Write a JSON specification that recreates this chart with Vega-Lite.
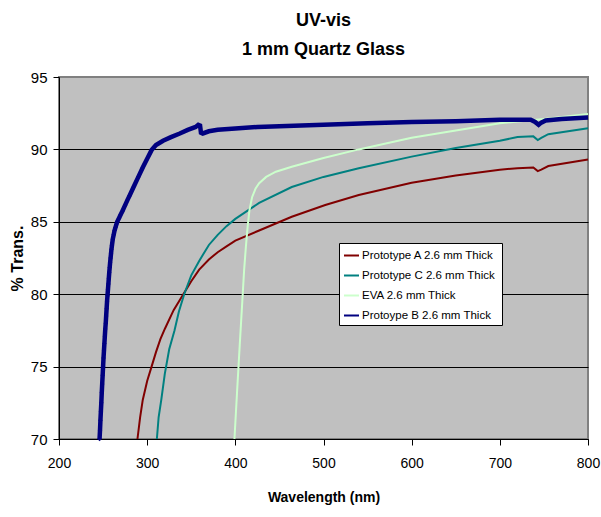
{
  "$schema": "https://vega.github.io/schema/vega-lite/v6.json",
  "width": 529,
  "height": 362,
  "autosize": "none",
  "padding": {"left": 59, "top": 77, "right": 13, "bottom": 78},
  "background": "white",
  "title": {
    "text": ["UV-vis", "1 mm Quartz Glass"],
    "font": "Liberation Sans",
    "fontSize": 18,
    "fontWeight": "bold",
    "lineHeight": 29,
    "offset": 11,
    "color": "black",
    "anchor": "middle"
  },
  "config": {
    "view": {"fill": "#C0C0C0", "stroke": "#808080", "strokeWidth": 2},
    "axis": {
      "labelFont": "Liberation Sans",
      "labelFontSize": 15,
      "labelColor": "black",
      "titleFont": "Liberation Sans",
      "titleColor": "black",
      "titleFontWeight": "bold",
      "domainColor": "black",
      "tickColor": "black",
      "tickSize": 6
    },
    "legend": {
      "orient": "none",
      "legendX": 280,
      "legendY": 166,
      "fillColor": "white",
      "strokeColor": "black",
      "padding": 4,
      "symbolType": "stroke",
      "symbolSize": 225,
      "symbolStrokeWidth": 2,
      "labelFont": "Liberation Sans",
      "labelFontSize": 11.5,
      "labelColor": "black",
      "labelLimit": 300,
      "labelOffset": 2,
      "rowPadding": 6
    }
  },
  "data": {
    "values": [
      {"series": "Protoype B 2.6 mm Thick", "nm": 246, "t": 70.0},
      {"series": "Protoype B 2.6 mm Thick", "nm": 246.5, "t": 70.6},
      {"series": "Protoype B 2.6 mm Thick", "nm": 247, "t": 71.3},
      {"series": "Protoype B 2.6 mm Thick", "nm": 247.5, "t": 71.9},
      {"series": "Protoype B 2.6 mm Thick", "nm": 248, "t": 72.5},
      {"series": "Protoype B 2.6 mm Thick", "nm": 248.5, "t": 73.2},
      {"series": "Protoype B 2.6 mm Thick", "nm": 249, "t": 73.8},
      {"series": "Protoype B 2.6 mm Thick", "nm": 249.5, "t": 74.4},
      {"series": "Protoype B 2.6 mm Thick", "nm": 250, "t": 75.0},
      {"series": "Protoype B 2.6 mm Thick", "nm": 250.5, "t": 75.6},
      {"series": "Protoype B 2.6 mm Thick", "nm": 251, "t": 76.1},
      {"series": "Protoype B 2.6 mm Thick", "nm": 251.5, "t": 76.6},
      {"series": "Protoype B 2.6 mm Thick", "nm": 252, "t": 77.1},
      {"series": "Protoype B 2.6 mm Thick", "nm": 252.5, "t": 77.6},
      {"series": "Protoype B 2.6 mm Thick", "nm": 253, "t": 78.0},
      {"series": "Protoype B 2.6 mm Thick", "nm": 253.5, "t": 78.5},
      {"series": "Protoype B 2.6 mm Thick", "nm": 254, "t": 79.0},
      {"series": "Protoype B 2.6 mm Thick", "nm": 254.5, "t": 79.5},
      {"series": "Protoype B 2.6 mm Thick", "nm": 255, "t": 79.9},
      {"series": "Protoype B 2.6 mm Thick", "nm": 255.5, "t": 80.3},
      {"series": "Protoype B 2.6 mm Thick", "nm": 256, "t": 80.7},
      {"series": "Protoype B 2.6 mm Thick", "nm": 256.5, "t": 81.1},
      {"series": "Protoype B 2.6 mm Thick", "nm": 257, "t": 81.5},
      {"series": "Protoype B 2.6 mm Thick", "nm": 257.5, "t": 81.85},
      {"series": "Protoype B 2.6 mm Thick", "nm": 258, "t": 82.2},
      {"series": "Protoype B 2.6 mm Thick", "nm": 258.5, "t": 82.5},
      {"series": "Protoype B 2.6 mm Thick", "nm": 259, "t": 82.8},
      {"series": "Protoype B 2.6 mm Thick", "nm": 259.5, "t": 83.1},
      {"series": "Protoype B 2.6 mm Thick", "nm": 260, "t": 83.35},
      {"series": "Protoype B 2.6 mm Thick", "nm": 261, "t": 83.8},
      {"series": "Protoype B 2.6 mm Thick", "nm": 262, "t": 84.1},
      {"series": "Protoype B 2.6 mm Thick", "nm": 263, "t": 84.4},
      {"series": "Protoype B 2.6 mm Thick", "nm": 264, "t": 84.6},
      {"series": "Protoype B 2.6 mm Thick", "nm": 265, "t": 84.8},
      {"series": "Protoype B 2.6 mm Thick", "nm": 266, "t": 85.0},
      {"series": "Protoype B 2.6 mm Thick", "nm": 268, "t": 85.25},
      {"series": "Protoype B 2.6 mm Thick", "nm": 270, "t": 85.5},
      {"series": "Protoype B 2.6 mm Thick", "nm": 272, "t": 85.75},
      {"series": "Protoype B 2.6 mm Thick", "nm": 275, "t": 86.15},
      {"series": "Protoype B 2.6 mm Thick", "nm": 278, "t": 86.55},
      {"series": "Protoype B 2.6 mm Thick", "nm": 280, "t": 86.8},
      {"series": "Protoype B 2.6 mm Thick", "nm": 285, "t": 87.45},
      {"series": "Protoype B 2.6 mm Thick", "nm": 290, "t": 88.1},
      {"series": "Protoype B 2.6 mm Thick", "nm": 295, "t": 88.75},
      {"series": "Protoype B 2.6 mm Thick", "nm": 300, "t": 89.35},
      {"series": "Protoype B 2.6 mm Thick", "nm": 305, "t": 89.95},
      {"series": "Protoype B 2.6 mm Thick", "nm": 310, "t": 90.3},
      {"series": "Protoype B 2.6 mm Thick", "nm": 318, "t": 90.6},
      {"series": "Protoype B 2.6 mm Thick", "nm": 327, "t": 90.85},
      {"series": "Protoype B 2.6 mm Thick", "nm": 337, "t": 91.1},
      {"series": "Protoype B 2.6 mm Thick", "nm": 346, "t": 91.35},
      {"series": "Protoype B 2.6 mm Thick", "nm": 355, "t": 91.55},
      {"series": "Protoype B 2.6 mm Thick", "nm": 358, "t": 91.7},
      {"series": "Protoype B 2.6 mm Thick", "nm": 360, "t": 91.65},
      {"series": "Protoype B 2.6 mm Thick", "nm": 361, "t": 91.15},
      {"series": "Protoype B 2.6 mm Thick", "nm": 363, "t": 91.1},
      {"series": "Protoype B 2.6 mm Thick", "nm": 370, "t": 91.25},
      {"series": "Protoype B 2.6 mm Thick", "nm": 380, "t": 91.35},
      {"series": "Protoype B 2.6 mm Thick", "nm": 400, "t": 91.45},
      {"series": "Protoype B 2.6 mm Thick", "nm": 425, "t": 91.55},
      {"series": "Protoype B 2.6 mm Thick", "nm": 450, "t": 91.6},
      {"series": "Protoype B 2.6 mm Thick", "nm": 500, "t": 91.7},
      {"series": "Protoype B 2.6 mm Thick", "nm": 550, "t": 91.8},
      {"series": "Protoype B 2.6 mm Thick", "nm": 600, "t": 91.9},
      {"series": "Protoype B 2.6 mm Thick", "nm": 650, "t": 91.95},
      {"series": "Protoype B 2.6 mm Thick", "nm": 700, "t": 92.05},
      {"series": "Protoype B 2.6 mm Thick", "nm": 735, "t": 92.05},
      {"series": "Protoype B 2.6 mm Thick", "nm": 740, "t": 91.9},
      {"series": "Protoype B 2.6 mm Thick", "nm": 744, "t": 91.7},
      {"series": "Protoype B 2.6 mm Thick", "nm": 747, "t": 91.85},
      {"series": "Protoype B 2.6 mm Thick", "nm": 752, "t": 92.0},
      {"series": "Protoype B 2.6 mm Thick", "nm": 770, "t": 92.1},
      {"series": "Protoype B 2.6 mm Thick", "nm": 800, "t": 92.2},

      {"series": "Prototype A  2.6 mm Thick", "nm": 289, "t": 70.0},
      {"series": "Prototype A  2.6 mm Thick", "nm": 292, "t": 71.5},
      {"series": "Prototype A  2.6 mm Thick", "nm": 295, "t": 72.7},
      {"series": "Prototype A  2.6 mm Thick", "nm": 300, "t": 74.0},
      {"series": "Prototype A  2.6 mm Thick", "nm": 305, "t": 75.0},
      {"series": "Prototype A  2.6 mm Thick", "nm": 310, "t": 76.0},
      {"series": "Prototype A  2.6 mm Thick", "nm": 315, "t": 76.9},
      {"series": "Prototype A  2.6 mm Thick", "nm": 320, "t": 77.6},
      {"series": "Prototype A  2.6 mm Thick", "nm": 330, "t": 78.9},
      {"series": "Prototype A  2.6 mm Thick", "nm": 341, "t": 80.0},
      {"series": "Prototype A  2.6 mm Thick", "nm": 350, "t": 80.9},
      {"series": "Prototype A  2.6 mm Thick", "nm": 359, "t": 81.7},
      {"series": "Prototype A  2.6 mm Thick", "nm": 370, "t": 82.4},
      {"series": "Prototype A  2.6 mm Thick", "nm": 380, "t": 82.9},
      {"series": "Prototype A  2.6 mm Thick", "nm": 390, "t": 83.3},
      {"series": "Prototype A  2.6 mm Thick", "nm": 400, "t": 83.7},
      {"series": "Prototype A  2.6 mm Thick", "nm": 427, "t": 84.4},
      {"series": "Prototype A  2.6 mm Thick", "nm": 464, "t": 85.35},
      {"series": "Prototype A  2.6 mm Thick", "nm": 502, "t": 86.16},
      {"series": "Prototype A  2.6 mm Thick", "nm": 540, "t": 86.85},
      {"series": "Prototype A  2.6 mm Thick", "nm": 600, "t": 87.7},
      {"series": "Prototype A  2.6 mm Thick", "nm": 650, "t": 88.2},
      {"series": "Prototype A  2.6 mm Thick", "nm": 700, "t": 88.6},
      {"series": "Prototype A  2.6 mm Thick", "nm": 720, "t": 88.7},
      {"series": "Prototype A  2.6 mm Thick", "nm": 738, "t": 88.75},
      {"series": "Prototype A  2.6 mm Thick", "nm": 743, "t": 88.5},
      {"series": "Prototype A  2.6 mm Thick", "nm": 747, "t": 88.6},
      {"series": "Prototype A  2.6 mm Thick", "nm": 755, "t": 88.85},
      {"series": "Prototype A  2.6 mm Thick", "nm": 800, "t": 89.3},

      {"series": "Prototype C 2.6 mm Thick", "nm": 311, "t": 70.0},
      {"series": "Prototype C 2.6 mm Thick", "nm": 313, "t": 71.5},
      {"series": "Prototype C 2.6 mm Thick", "nm": 316, "t": 72.7},
      {"series": "Prototype C 2.6 mm Thick", "nm": 320, "t": 74.5},
      {"series": "Prototype C 2.6 mm Thick", "nm": 325, "t": 76.2},
      {"series": "Prototype C 2.6 mm Thick", "nm": 331, "t": 77.5},
      {"series": "Prototype C 2.6 mm Thick", "nm": 336, "t": 78.8},
      {"series": "Prototype C 2.6 mm Thick", "nm": 342, "t": 80.0},
      {"series": "Prototype C 2.6 mm Thick", "nm": 350, "t": 81.3},
      {"series": "Prototype C 2.6 mm Thick", "nm": 359, "t": 82.3},
      {"series": "Prototype C 2.6 mm Thick", "nm": 370, "t": 83.4},
      {"series": "Prototype C 2.6 mm Thick", "nm": 380, "t": 84.1},
      {"series": "Prototype C 2.6 mm Thick", "nm": 390, "t": 84.7},
      {"series": "Prototype C 2.6 mm Thick", "nm": 400, "t": 85.2},
      {"series": "Prototype C 2.6 mm Thick", "nm": 427, "t": 86.3},
      {"series": "Prototype C 2.6 mm Thick", "nm": 464, "t": 87.4},
      {"series": "Prototype C 2.6 mm Thick", "nm": 500, "t": 88.1},
      {"series": "Prototype C 2.6 mm Thick", "nm": 540, "t": 88.7},
      {"series": "Prototype C 2.6 mm Thick", "nm": 600, "t": 89.5},
      {"series": "Prototype C 2.6 mm Thick", "nm": 650, "t": 90.1},
      {"series": "Prototype C 2.6 mm Thick", "nm": 700, "t": 90.6},
      {"series": "Prototype C 2.6 mm Thick", "nm": 720, "t": 90.85},
      {"series": "Prototype C 2.6 mm Thick", "nm": 738, "t": 90.9},
      {"series": "Prototype C 2.6 mm Thick", "nm": 743, "t": 90.65},
      {"series": "Prototype C 2.6 mm Thick", "nm": 747, "t": 90.8},
      {"series": "Prototype C 2.6 mm Thick", "nm": 755, "t": 91.05},
      {"series": "Prototype C 2.6 mm Thick", "nm": 800, "t": 91.46},

      {"series": "EVA 2.6 mm Thick", "nm": 399, "t": 70.0},
      {"series": "EVA 2.6 mm Thick", "nm": 402, "t": 73.3},
      {"series": "EVA 2.6 mm Thick", "nm": 405, "t": 76.5},
      {"series": "EVA 2.6 mm Thick", "nm": 408, "t": 79.6},
      {"series": "EVA 2.6 mm Thick", "nm": 410, "t": 81.7},
      {"series": "EVA 2.6 mm Thick", "nm": 412, "t": 83.3},
      {"series": "EVA 2.6 mm Thick", "nm": 414, "t": 84.7},
      {"series": "EVA 2.6 mm Thick", "nm": 416, "t": 85.8},
      {"series": "EVA 2.6 mm Thick", "nm": 419, "t": 86.7},
      {"series": "EVA 2.6 mm Thick", "nm": 423, "t": 87.3},
      {"series": "EVA 2.6 mm Thick", "nm": 427, "t": 87.66},
      {"series": "EVA 2.6 mm Thick", "nm": 435, "t": 88.1},
      {"series": "EVA 2.6 mm Thick", "nm": 446, "t": 88.46},
      {"series": "EVA 2.6 mm Thick", "nm": 464, "t": 88.8},
      {"series": "EVA 2.6 mm Thick", "nm": 500, "t": 89.4},
      {"series": "EVA 2.6 mm Thick", "nm": 540, "t": 90.0},
      {"series": "EVA 2.6 mm Thick", "nm": 600, "t": 90.8},
      {"series": "EVA 2.6 mm Thick", "nm": 650, "t": 91.3},
      {"series": "EVA 2.6 mm Thick", "nm": 700, "t": 91.8},
      {"series": "EVA 2.6 mm Thick", "nm": 750, "t": 92.1},
      {"series": "EVA 2.6 mm Thick", "nm": 800, "t": 92.45}
    ]
  },
  "encoding": {
    "x": {
      "field": "nm", "type": "quantitative",
      "scale": {"domain": [200, 800], "nice": false, "zero": false},
      "axis": {"values": [200, 300, 400, 500, 600, 700, 800], "grid": false, "title": "Wavelength (nm)", "titleFontSize": 14, "titlePadding": 20, "labelFontSize": 14, "labelPadding": 11, "labelFlush": false}
    },
    "y": {
      "field": "t", "type": "quantitative",
      "scale": {"domain": [70, 95], "nice": false, "zero": false},
      "axis": {"values": [70, 75, 80, 85, 90, 95], "grid": true, "gridColor": {"condition": {"test": "datum.value == 95", "value": "#808080"}, "value": "black"}, "gridWidth": 1, "title": "% Trans.", "titleFontSize": 16, "titlePadding": 5, "labelPadding": 6, "labelFlush": false}
    }
  },
  "layer": [
    {
      "mark": {"type": "line", "strokeWidth": 2},
      "transform": [{"filter": "datum.series != 'Protoype B 2.6 mm Thick'"}],
      "encoding": {
        "color": {
          "field": "series", "type": "nominal",
          "scale": {
            "domain": ["Prototype A  2.6 mm Thick", "Prototype C 2.6 mm Thick", "EVA 2.6 mm Thick", "Protoype B 2.6 mm Thick"],
            "range": ["#800000", "#008080", "#CCFFCC", "#000080"]
          },
          "legend": {"title": null}
        },
        "order": {"field": "nm", "type": "quantitative"}
      }
    },
    {
      "mark": {"type": "line", "strokeWidth": 4.5},
      "transform": [{"filter": "datum.series == 'Protoype B 2.6 mm Thick'"}],
      "encoding": {
        "color": {"field": "series", "type": "nominal"},
        "order": {"field": "nm", "type": "quantitative"}
      }
    },
    {
      "mark": {"type": "point", "shape": "diamond", "filled": true, "size": 20, "opacity": 1, "color": "#000080"},
      "transform": [{"filter": "datum.series == 'Protoype B 2.6 mm Thick' && datum.nm < 300"}],
      "encoding": {}
    }
  ]
}
